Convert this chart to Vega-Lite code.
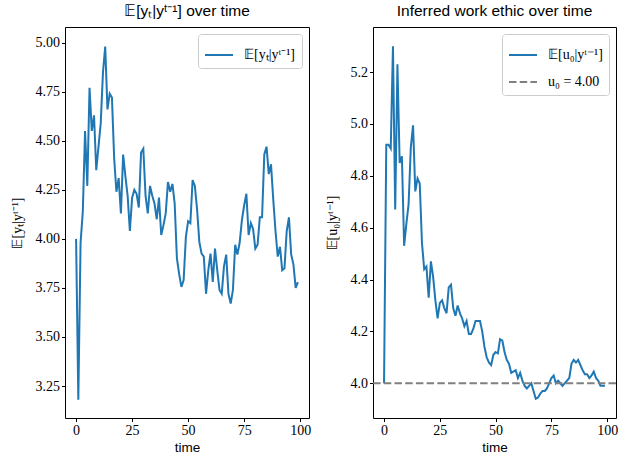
{
  "$schema": "https://vega.github.io/schema/vega-lite/v6.json",
  "background": "white",
  "padding": {"left": 9, "top": 3, "right": 5, "bottom": 5},
  "spacing": 12,
  "datasets": {
    "y": [
      {"t":0,"v":4.00},{"t":1,"v":3.18},{"t":2,"v":3.98},{"t":3,"v":4.14},{"t":4,"v":4.55},{"t":5,"v":4.27},{"t":6,"v":4.77},{"t":7,"v":4.55},{"t":8,"v":4.63},{"t":9,"v":4.35},
      {"t":10,"v":4.47},{"t":11,"v":4.59},{"t":12,"v":4.85},{"t":13,"v":4.98},{"t":14,"v":4.66},{"t":15,"v":4.74},{"t":16,"v":4.72},{"t":17,"v":4.41},{"t":18,"v":4.24},{"t":19,"v":4.31},
      {"t":20,"v":4.13},{"t":21,"v":4.43},{"t":22,"v":4.32},{"t":23,"v":4.22},{"t":24,"v":4.04},{"t":25,"v":4.21},{"t":26,"v":4.25},{"t":27,"v":4.23},{"t":28,"v":4.16},{"t":29,"v":4.44},
      {"t":30,"v":4.46},{"t":31,"v":4.22},{"t":32,"v":4.13},{"t":33,"v":4.27},{"t":34,"v":4.22},{"t":35,"v":4.18},{"t":36,"v":4.10},{"t":37,"v":4.21},{"t":38,"v":4.02},{"t":39,"v":4.07},
      {"t":40,"v":4.13},{"t":41,"v":4.29},{"t":42,"v":4.24},{"t":43,"v":4.28},{"t":44,"v":4.18},{"t":45,"v":3.90},{"t":46,"v":3.82},{"t":47,"v":3.755},{"t":48,"v":3.79},{"t":49,"v":4.01},
      {"t":50,"v":4.09},{"t":51,"v":4.08},{"t":52,"v":4.30},{"t":53,"v":4.27},{"t":54,"v":4.15},{"t":55,"v":3.985},{"t":56,"v":3.925},{"t":57,"v":3.91},{"t":58,"v":3.72},{"t":59,"v":3.84},
      {"t":60,"v":3.925},{"t":61,"v":3.78},{"t":62,"v":3.95},{"t":63,"v":3.84},{"t":64,"v":3.74},{"t":65,"v":3.72},{"t":66,"v":3.86},{"t":67,"v":3.92},{"t":68,"v":3.72},{"t":69,"v":3.67},
      {"t":70,"v":3.74},{"t":71,"v":3.97},{"t":72,"v":3.92},{"t":73,"v":3.98},{"t":74,"v":4.095},{"t":75,"v":4.17},{"t":76,"v":4.23},{"t":77,"v":4.02},{"t":78,"v":4.08},{"t":79,"v":4.05},
      {"t":80,"v":3.95},{"t":81,"v":3.97},{"t":82,"v":4.11},{"t":83,"v":4.11},{"t":84,"v":4.43},{"t":85,"v":4.47},{"t":86,"v":4.33},{"t":87,"v":4.38},{"t":88,"v":4.20},{"t":89,"v":4.04},
      {"t":90,"v":3.91},{"t":91,"v":3.96},{"t":92,"v":3.84},{"t":93,"v":3.85},{"t":94,"v":4.04},{"t":95,"v":4.11},{"t":96,"v":3.92},{"t":97,"v":3.87},{"t":98,"v":3.75},{"t":99,"v":3.78}
    ],
    "u": [
      {"t":0,"v":4.00},{"t":1,"v":4.92},{"t":2,"v":4.92},{"t":3,"v":4.905},{"t":4,"v":5.30},{"t":5,"v":4.67},{"t":6,"v":5.23},{"t":7,"v":4.85},{"t":8,"v":4.875},{"t":9,"v":4.53},
      {"t":10,"v":4.615},{"t":11,"v":4.69},{"t":12,"v":4.91},{"t":13,"v":4.995},{"t":14,"v":4.74},{"t":15,"v":4.79},{"t":16,"v":4.77},{"t":17,"v":4.54},{"t":18,"v":4.44},{"t":19,"v":4.45},
      {"t":20,"v":4.33},{"t":21,"v":4.47},{"t":22,"v":4.41},{"t":23,"v":4.32},{"t":24,"v":4.25},{"t":25,"v":4.31},{"t":26,"v":4.32},{"t":27,"v":4.29},{"t":28,"v":4.27},{"t":29,"v":4.37},
      {"t":30,"v":4.38},{"t":31,"v":4.29},{"t":32,"v":4.26},{"t":33,"v":4.30},{"t":34,"v":4.27},{"t":35,"v":4.25},{"t":36,"v":4.22},{"t":37,"v":4.24},{"t":38,"v":4.19},{"t":39,"v":4.19},
      {"t":40,"v":4.21},{"t":41,"v":4.24},{"t":42,"v":4.24},{"t":43,"v":4.24},{"t":44,"v":4.20},{"t":45,"v":4.14},{"t":46,"v":4.10},{"t":47,"v":4.08},{"t":48,"v":4.07},{"t":49,"v":4.11},
      {"t":50,"v":4.12},{"t":51,"v":4.115},{"t":52,"v":4.17},{"t":53,"v":4.165},{"t":54,"v":4.12},{"t":55,"v":4.09},{"t":56,"v":4.075},{"t":57,"v":4.04},{"t":58,"v":4.045},{"t":59,"v":4.05},
      {"t":60,"v":4.02},{"t":61,"v":4.04},{"t":62,"v":4.01},{"t":63,"v":3.99},{"t":64,"v":3.98},{"t":65,"v":3.99},{"t":66,"v":4.00},{"t":67,"v":3.97},{"t":68,"v":3.94},{"t":69,"v":3.945},
      {"t":70,"v":3.96},{"t":71,"v":3.97},{"t":72,"v":3.97},{"t":73,"v":3.98},{"t":74,"v":4.00},{"t":75,"v":4.02},{"t":76,"v":4.03},{"t":77,"v":4.00},{"t":78,"v":4.01},{"t":79,"v":4.00},
      {"t":80,"v":3.99},{"t":81,"v":4.00},{"t":82,"v":4.01},{"t":83,"v":4.02},{"t":84,"v":4.075},{"t":85,"v":4.09},{"t":86,"v":4.08},{"t":87,"v":4.09},{"t":88,"v":4.07},{"t":89,"v":4.05},
      {"t":90,"v":4.035},{"t":91,"v":4.035},{"t":92,"v":4.02},{"t":93,"v":4.03},{"t":94,"v":4.045},{"t":95,"v":4.02},{"t":96,"v":4.01},{"t":97,"v":3.99},{"t":98,"v":3.99},{"t":99,"v":3.99}
    ],
    "ref": [{"v": 4.0}]
  },
  "config": {
    "view": {"stroke": "black", "strokeWidth": 1},
    "axis": {
      "grid": false, "domain": false,
      "tickColor": "black", "tickSize": 3.5, "tickWidth": 1,
      "labelFont": "Liberation Serif", "labelFontSize": 14, "labelColor": "black", "labelPadding": 2,
      "titleFontWeight": "normal", "titleColor": "black"
    },
    "axisX": {"titleFont": "Liberation Sans", "titleFontSize": 13.5, "titlePadding": 3},
    "axisY": {"titleFont": "Liberation Serif", "titleFontSize": 14, "titlePadding": 11},
    "title": {"font": "Liberation Sans", "fontSize": 15.5, "fontWeight": "normal", "color": "black", "offset": 8},
    "legend": {
      "orient": "top-right", "offset": 7, "title": null,
      "symbolType": "stroke", "symbolSize": 784, "symbolStrokeWidth": 2,
      "labelFont": "Liberation Serif", "labelFontSize": 14, "labelColor": "black", "labelOffset": 10,
      "padding": 6, "rowPadding": 5,
      "strokeColor": "#cccccc", "fillColor": "rgba(255,255,255,0.8)", "cornerRadius": 3
    }
  },
  "resolve": {
    "scale": {"x": "independent", "y": "independent", "color": "independent", "strokeDash": "independent"},
    "legend": {"color": "independent", "strokeDash": "independent"}
  },
  "hconcat": [
    {
      "width": 244, "height": 391,
      "title": "𝔼[yₜ|yᵗ⁻¹] over time",
      "data": {"name": "y"},
      "mark": {"type": "line", "strokeWidth": 2},
      "encoding": {
        "x": {"field": "t", "type": "quantitative",
              "scale": {"domain": [-4.95, 103.95], "nice": false, "zero": false},
              "axis": {"values": [0, 25, 50, 75, 100], "title": "time"}},
        "y": {"field": "v", "type": "quantitative",
              "scale": {"domain": [3.087, 5.08], "nice": false, "zero": false},
              "axis": {"values": [3.25, 3.5, 3.75, 4.0, 4.25, 4.5, 4.75, 5.0], "format": ".2f", "title": "𝔼[yₜ|yᵗ⁻¹]"}},
        "color": {"datum": "𝔼[yₜ|yᵗ⁻¹]", "scale": {"range": ["#1f77b4"]}}
      }
    },
    {
      "width": 243, "height": 391,
      "title": "Inferred work ethic over time",
      "layer": [
        {
          "data": {"name": "u"},
          "mark": {"type": "line", "strokeWidth": 2},
          "encoding": {
            "x": {"field": "t", "type": "quantitative",
                  "scale": {"domain": [-4.95, 103.95], "nice": false, "zero": false},
                  "axis": {"values": [0, 25, 50, 75, 100], "title": "time"}},
            "y": {"field": "v", "type": "quantitative",
                  "scale": {"domain": [3.866, 5.374], "nice": false, "zero": false},
                  "axis": {"values": [4.0, 4.2, 4.4, 4.6, 4.8, 5.0, 5.2], "format": ".1f", "title": "𝔼[u₀|yᵗ⁻¹]"}},
            "color": {"datum": "𝔼[u₀|yᵗ⁻¹]",
                      "scale": {"domain": ["𝔼[u₀|yᵗ⁻¹]", "u₀ = 4.00"], "range": ["#1f77b4", "#808080"]}},
            "strokeDash": {"datum": "𝔼[u₀|yᵗ⁻¹]",
                           "scale": {"domain": ["𝔼[u₀|yᵗ⁻¹]", "u₀ = 4.00"], "range": [[1, 0], [7.5, 3.2]]}}
          }
        },
        {
          "data": {"name": "ref"},
          "mark": {"type": "rule", "strokeWidth": 2},
          "encoding": {
            "y": {"field": "v", "type": "quantitative"},
            "color": {"datum": "u₀ = 4.00"},
            "strokeDash": {"datum": "u₀ = 4.00"}
          }
        }
      ]
    }
  ]
}
